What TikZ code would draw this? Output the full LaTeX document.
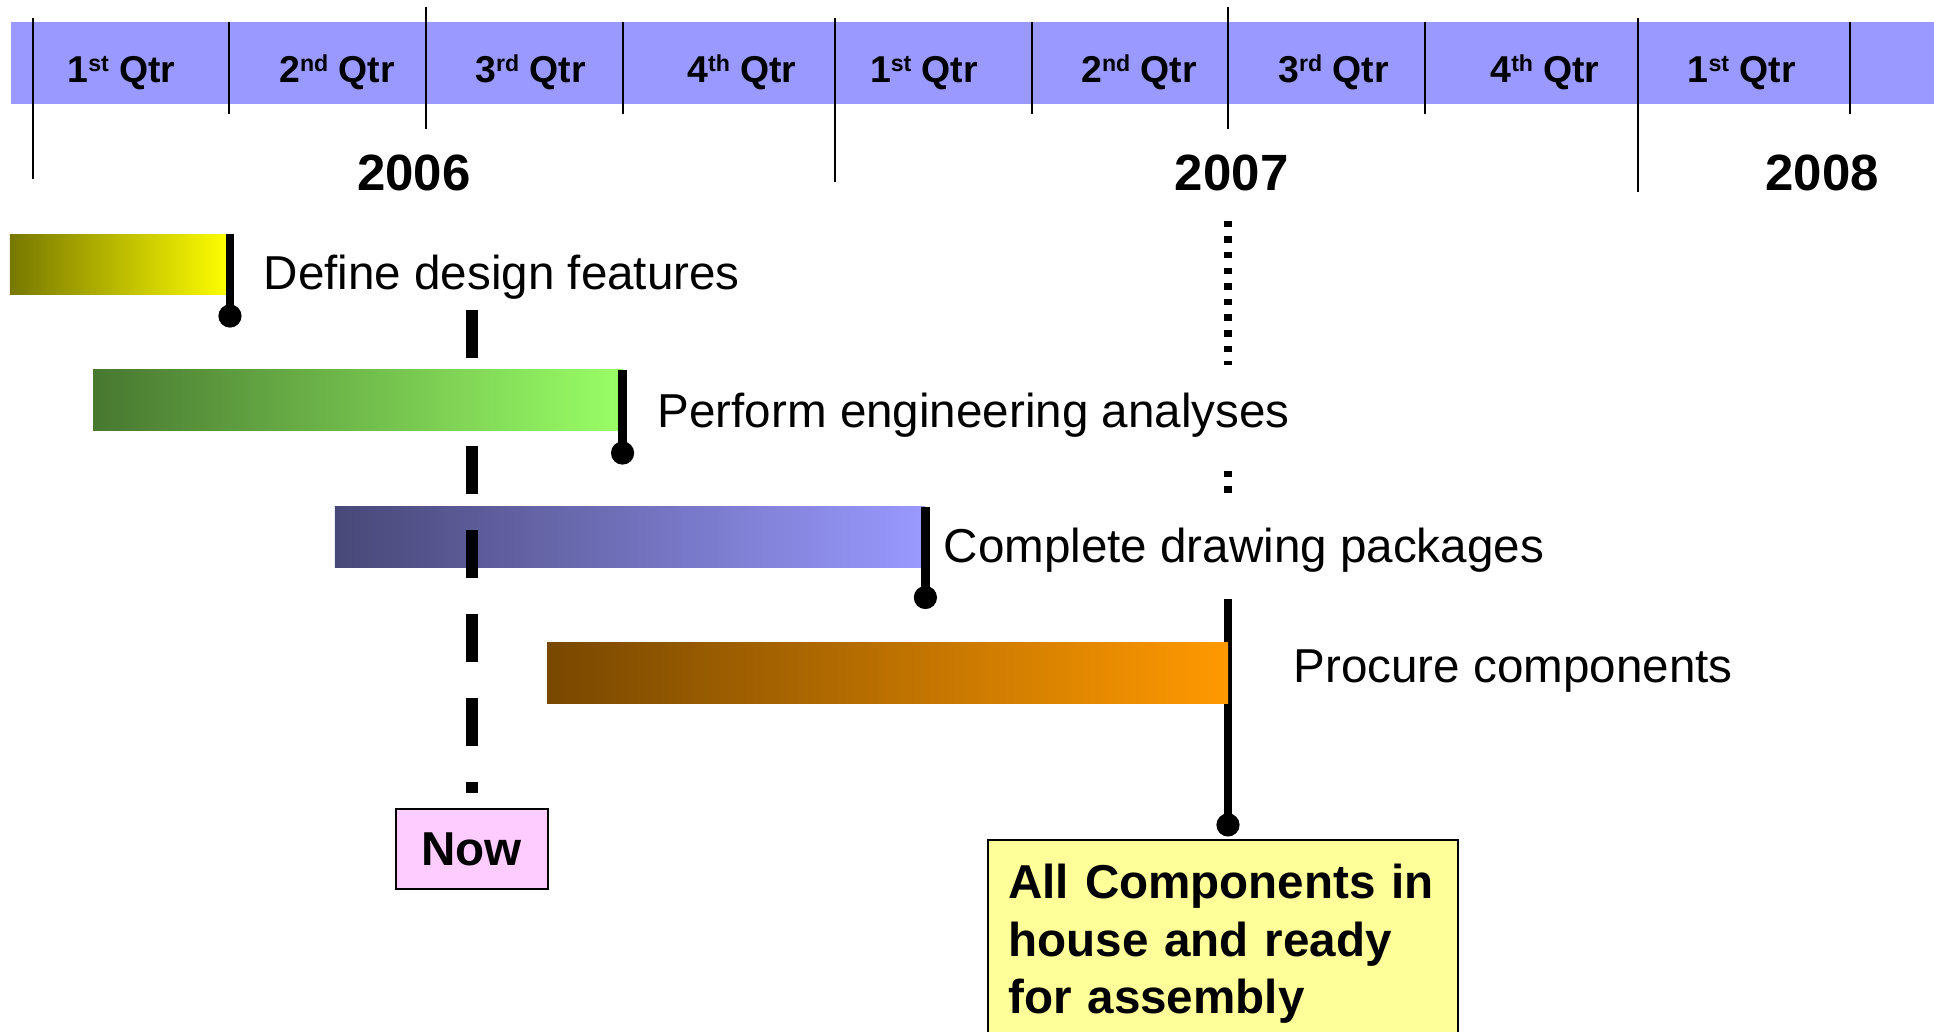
\documentclass[tikz,border=0pt]{standalone}
\usepackage{fontspec}
\setmainfont{Liberation Sans}
\definecolor{cabecera}{RGB}{153,153,255}
\definecolor{amarillo}{RGB}{255,255,0}
\definecolor{verde}{RGB}{153,255,102}
\definecolor{lila}{RGB}{153,153,255}
\definecolor{naranja}{RGB}{255,153,0}
\definecolor{rosa}{RGB}{255,204,255}
\definecolor{crema}{RGB}{255,255,153}
\newcommand{\ord}[1]{\raisebox{3.4pt}{\fontsize{6.8}{7}\selectfont #1}}

\begin{document}
\begin{tikzpicture}[
    marca/.style={line width=0.6pt},
    trim/.style={font=\bfseries\fontsize{11}{13}\selectfont, anchor=base},
    anio/.style={font=\bfseries\fontsize{15}{18}\selectfont, anchor=base},
    tarea/.style={font=\fontsize{14}{17}\selectfont, anchor=base west, fill=white, inner xsep=0pt, inner ysep=0.28cm},
    barra/.style={anchor=north west, minimum height=0.63cm, inner sep=0pt, outer sep=0pt, left color=#1!47!black, right color=#1},
    fin/.style={line width=2.4pt},
    punto/.style={circle, fill=black, inner sep=0pt, minimum size=0.24cm},
    puntos/.style={line width=2.4pt, dash pattern=on 1.9pt off 2.7pt},
    hoyline/.style={line width=3.5pt},
    caja/.style={draw, line width=0.6pt, font=\bfseries\fontsize{14}{16.9}\selectfont}
]
    \useasboundingbox (0,0) rectangle (20,-10.672);

    % Barra de trimestres
    \fill[cabecera] (0.11,-0.23) rectangle (20,-1.08);
    \draw[marca] (0.345,-0.186) -- (0.345,-1.851);
    \draw[marca] (2.373,-0.228) -- (2.373,-1.179);
    \draw[marca] (4.405,-0.072) -- (4.405,-1.334);
    \draw[marca] (6.443,-0.228) -- (6.443,-1.179);
    \draw[marca] (8.630,-0.186) -- (8.630,-1.882);
    \draw[marca] (10.668,-0.228) -- (10.668,-1.179);
    \draw[marca] (12.699,-0.072) -- (12.699,-1.334);
    \draw[marca] (14.741,-0.228) -- (14.741,-1.179);
    \draw[marca] (16.937,-0.186) -- (16.937,-1.986);
    \draw[marca] (19.131,-0.228) -- (19.131,-1.179);

    % Trimestres
    \node[trim] (q1) at (1.256,-0.858) {1\ord{st} Qtr};
    \node[trim] (q2) at (3.485,-0.858) {2\ord{nd} Qtr};
    \node[trim] (q3) at (5.487,-0.858) {3\ord{rd} Qtr};
    \node[trim] (q4) at (7.673,-0.858) {4\ord{th} Qtr};
    \node[trim] (q5) at (9.555,-0.858) {1\ord{st} Qtr};
    \node[trim] (q6) at (11.779,-0.858) {2\ord{nd} Qtr};
    \node[trim] (q7) at (13.789,-0.858) {3\ord{rd} Qtr};
    \node[trim] (q8) at (15.977,-0.858) {4\ord{th} Qtr};
    \node[trim] (q9) at (18.011,-0.858) {1\ord{st} Qtr};

    % Anios
    \node[anio] (a2006) at (4.281,-1.975) {2006};
    \node[anio] (a2007) at (12.737,-1.975) {2007};
    \node[anio] (a2008) at (18.844,-1.975) {2008};

    % Linea del hito
    \coordinate (hitotop) at (12.699,-2.282);
    \coordinate (hitomid) at (12.699,-5.90);
    \node[punto] (d4) at (12.699,-8.531) {};
    \draw[puntos] (hitotop) -- (hitomid);
    \draw[fin] (hitomid) -- (d4.center);

    % Etiquetas de tareas
    \node[tarea] (define) at (2.72,-2.999) {Define design features};
    \node[tarea] (perform) at (6.794,-4.416) {Perform engineering analyses};
    \node[tarea] (complete) at (9.752,-5.812) {Complete drawing packages};
    \node[tarea] (procure) at (13.371,-7.063) {Procure components};

    % Barras
    \node[barra=amarillo, minimum width=2.275cm] (b1) at (0.103,-2.420) {};
    \node[barra=verde, minimum width=5.481cm] (b2) at (0.962,-3.826) {};
    \node[barra=lila, minimum width=6.106cm] (b3) at (3.464,-5.243) {};
    \node[barra=naranja, minimum width=7.042cm] (b4) at (5.657,-6.649) {};

    % Fin de cada tarea
    \node[punto] (d1) at (2.378,-3.268) {};
    \node[punto] (d2) at (6.438,-4.685) {};
    \node[punto] (d3) at (9.570,-6.179) {};
    \draw[fin] (d1.center |- b1.north) -- (d1.center);
    \draw[fin] (d2.center |- b2.north) -- (d2.center);
    \draw[fin] (d3.center |- b3.north) -- (d3.center);

    % Hoy
    \node[caja, fill=rosa, minimum width=1.57cm, minimum height=0.82cm] (now) at (4.878,-8.780) {Now};
    \coordinate (nowtop) at (4.878,-4.612);
    \draw[hoyline] (4.878,-3.206) -- (4.878,-3.702);
    \draw[hoyline, dash pattern=on 14.1pt off 10.65pt, shorten >=0.155cm] (nowtop) -- (now.north);

    % Hito final
    \node[caja, fill=crema, anchor=north west, align=left, text width=4.44cm, inner xsep=0.21cm, inner ysep=0.25cm] (listo) at (10.207,-8.676) {All Components in\\house and ready\\for assembly};
\end{tikzpicture}
\end{document}
